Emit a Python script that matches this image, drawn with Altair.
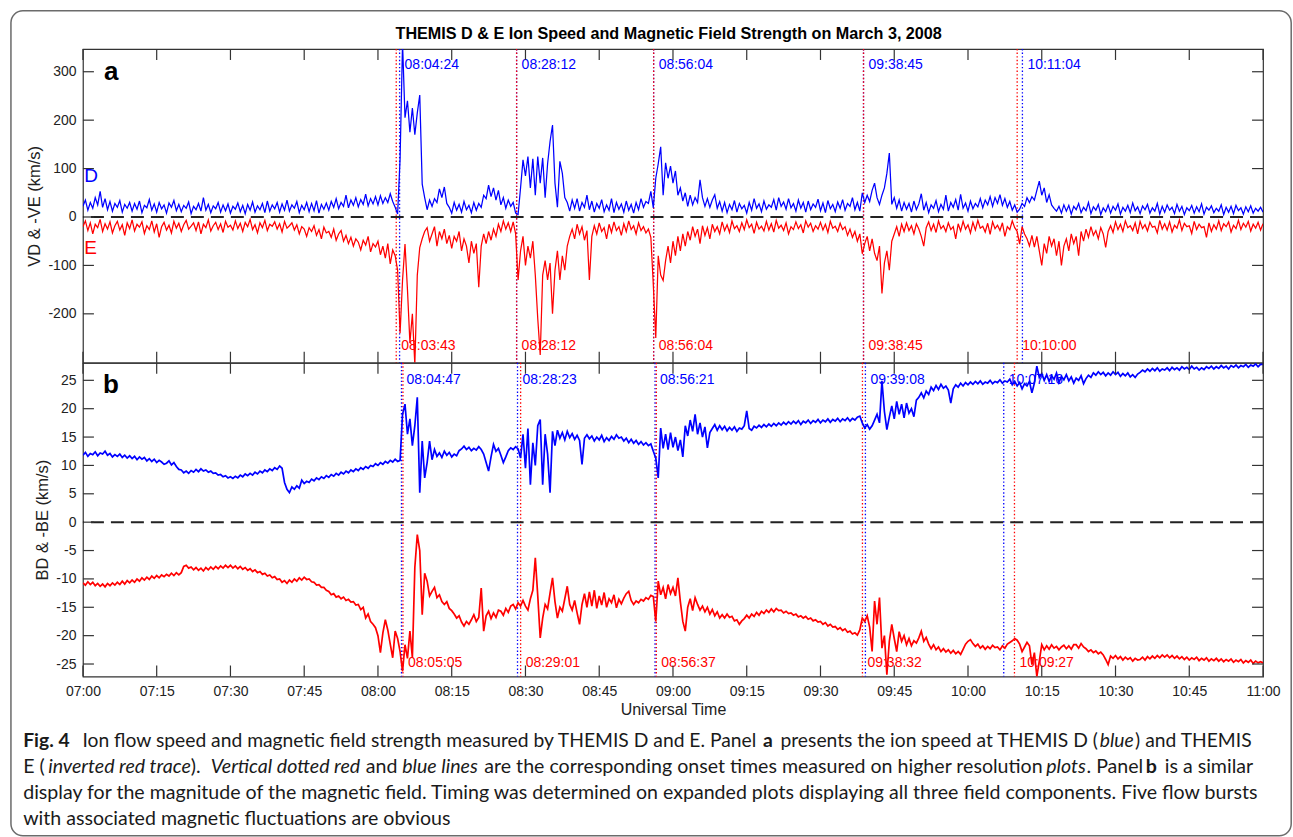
import altair as alt
import pandas as pd

# ---------------- values ----------------
# samples every 30 s, minutes after 07:00 UT
GRID_STEP_MIN = 0.5

# Panel a: THEMIS D ion speed (km/s)
VD = [
    22, 35, 14, 30, 18, 40, 25, 53, 20, 38, 15, 32, 12, 28, 20, 34, 10, 26, 18, 30,
    12, 28, 16, 33, 9, 24, 19, 36, 14, 27, 10, 30, 17, 25, 8, 29, 20, 34, 13, 26,
    11, 24, 18, 31, 7, 22, 15, 28, 12, 40, 14, 26, 9, 23, 17, 30, 10, 25, 13, 27,
    8, 22, 16, 29, 11, 24, 7, 26, 14, 31, 10, 23, 15, 28, 9, 33, 12, 25, 17, 30,
    10, 27, 14, 35, 12, 25, 18, 32, 9, 24, 15, 30, 11, 28, 13, 34, 8, 26, 16, 29,
    14, 32, 20, 38, 17, 30, 22, 45, 19, 35, 24, 40, 21, 36, 26, 47, 23, 38, 27, 42,
    25, 44, 28, 40, 30, 48, 32, 20, 6, 120, 360, 205, 240, 175, 225, 170, 215, 252, 68, 40,
    15, 35, 22, 38, 30, 58, 40, 62, 28, 20, 8, 30, 14, 26, 10, 32, 15, 24, 9, 30,
    14, 28, 20, 45, 38, 66, 42, 60, 35, 55, 25, 40, 18, 35, 22, 30, 8, 5, 60, 118,
    85, 125, 60, 120, 45, 125, 70, 122, 40, 110, 156, 190, 70, 20, 115, 90, 40, 30, 12, 35,
    18, 38, 12, 30, 20, 45, 15, 33, 10, 28, 18, 36, 11, 25, 14, 38, 9, 30, 16, 27,
    10, 33, 14, 26, 8, 30, 15, 38, 20, 32, 28, 53, 19, 80, 110, 145, 45, 112, 80, 105,
    70, 95, 45, 60, 33, 50, 22, 45, 25, 40, 30, 77, 40, 22, 38, 20, 35, 46, 18, 32,
    12, 30, 9, 26, 15, 34, 10, 28, 17, 24, 8, 30, 14, 38, 18, 27, 11, 33, 16, 25,
    20, 36, 14, 40, 22, 31, 16, 38, 19, 28, 12, 35, 18, 30, 10, 33, 15, 27, 20, 37,
    13, 29, 9, 34, 17, 26, 11, 31, 18, 36, 14, 28, 22, 40, 15, 30, 12, 50, 30, 45,
    32, 55, 70, 40, 26, 45, 60, 90, 132, 26, 40, 18, 35, 12, 30, 16, 28, 10, 33, 15,
    27, 48, 14, 30, 9, 25, 18, 34, 11, 26, 16, 45, 12, 30, 20, 36, 14, 47, 18, 29,
    12, 33, 17, 28, 21, 38, 19, 35, 25, 42, 22, 40, 28, 46, 24, 38, 20, 32, 14, 25,
    10, 16, 28, 22, 40, 30, 42, 35, 55, 74, 45, 60, 30, 46, 25, 18, 12, 22, 8, 25,
    12, 24, 6, 22, 15, 28, 9, 20, 13, 30, 7, 21, 14, 26, 5, 19, 11, 25, 8, 22,
    14, 27, 6, 20, 12, 24, 9, 29, 13, 21, 7, 23, 15, 26, 8, 19, 12, 28, 6, 22,
    10, 25, 14, 20, 7, 26, 12, 22, 5, 19, 13, 24, 8, 21, 11, 27, 6, 20, 14, 23,
    9, 18, 12, 25, 5, 20, 10, 22, 7, 24, 13, 19, 6, 21, 11, 23, 8, 18, 12, 20,
    10,
]

# Panel a: THEMIS E ion speed, inverted (km/s)
NEG_VE = [
    -20, -8, -28, -12, -35, -15, -22, -5, -30, -14, -25, -10, -33, -18, -9, -27, -16, -38, -12, -24,
    -6, -29, -15, -21, -10, -34, -18, -26, -8, -31, -14, -42, -20, -11, -27, -17, -33, -9, -23, -13,
    -30, -16, -7, -25, -19, -12, -28, -10, -35, -15, -22, -6, -29, -18, -11, -26, -14, -32, -9, -21,
    -17, -27, -8, -24, -13, -30, -11, -20, -5, -26, -16, -33, -12, -22, -7, -28, -15, -19, -10, -25,
    -14, -31, -9, -23, -18, -12, -27, -16, -35, -20, -25, -40, -22, -30, -18, -38, -26, -45, -21, -33,
    -30, -42, -25, -48, -35, -28, -50, -38, -55, -42, -60, -45, -52, -68, -48, -58, -40, -72, -55, -62,
    -50, -78, -60, -85, -55, -97, -68, -80, -110, -240, -130, -56, -150, -260, -200, -305, -120, -63, -45, -30,
    -22, -50, -35, -20, -60, -30, -45, -25, -55, -38, -65, -40, -50, -30, -70, -45, -60, -95, -50, -75,
    -55, -145, -60, -35, -55, -30, -48, -25, -40, -15, -30, -8, -25, -12, -30, -10, -35, -130, -70, -40,
    -100, -60, -85, -50, -120, -210, -285, -120, -90, -130, -95, -200, -110, -70, -130, -80, -110, -60, -40, -25,
    -45, -15, -35, -20, -48, -28, -130, -40, -18, -35, -12, -30, -22, -45, -15, -32, -10, -28, -20, -38,
    -14, -30, -8, -26, -18, -35, -12, -28, -20, -33, -25, -42, -140, -250, -80, -120, -131, -90, -60, -95,
    -50, -80, -40, -70, -35, -60, -30, -48, -20, -40, -25, -55, -18, -38, -22, -45, -15, -30, -20, -35,
    -10, -28, -16, -32, -8, -24, -18, -30, -12, -26, -6, -22, -15, -34, -11, -25, -19, -29, -9, -27,
    -14, -31, -7, -23, -17, -28, -12, -35, -20, -26, -10, -24, -16, -33, -8, -21, -13, -30, -18, -25,
    -11, -27, -15, -32, -9, -23, -19, -30, -13, -26, -20, -38, -25, -42, -30, -50, -35, -76, -55, -40,
    -70, -45, -75, -90, -60, -158, -95, -70, -110, -50, -35, -20, -40, -15, -30, -12, -28, -18, -35, -14,
    -25, -40, -60, -22, -10, -28, -15, -32, -8, -24, -18, -30, -12, -26, -20, -45, -14, -29, -9, -25,
    -16, -33, -11, -27, -7, -23, -19, -31, -13, -36, -10, -24, -17, -28, -12, -40, -20, -26, -8, -22,
    -30, -56, -20, -35, -45, -60, -38, -62, -40, -70, -100, -55, -75, -40, -60, -45, -80, -50, -100, -60,
    -45, -70, -35, -55, -40, -80, -30, -50, -25, -42, -20, -38, -28, -45, -22, -35, -63, -30, -18, -32,
    -10, -26, -15, -30, -8, -22, -18, -28, -12, -35, -9, -24, -16, -29, -11, -21, -19, -33, -7, -25,
    -14, -27, -10, -31, -17, -23, -6, -28, -13, -20, -18, -34, -9, -26, -15, -22, -20, -42, -12, -30,
    -16, -25, -8, -28, -14, -20, -10, -31, -17, -24, -7, -26, -13, -21, -9, -29, -15, -23, -11, -27,
    -14,
]

# Panel b: THEMIS D field magnitude
BD = [
    11.8, 12.3, 11.6, 12.1, 11.9, 12.4, 11.7, 12.2, 12.0, 12.5, 11.8, 12.1, 11.5, 11.9, 11.6, 12.0, 11.4, 11.8, 11.3, 11.7,
    11.2, 11.6, 11.0, 11.5, 11.1, 11.4, 10.8, 11.2, 10.7, 11.1, 10.5, 10.9, 10.6, 10.2, 10.4, 10.8, 10.1, 10.5, 9.8, 9.3,
    9.2, 8.7, 9.0, 8.6, 9.1, 8.8, 9.3, 8.9, 9.4, 9.0, 9.2, 8.8, 9.0, 8.6, 8.7, 8.3, 8.4, 8.0, 8.2, 7.8,
    8.0, 7.7, 8.1, 7.8, 8.3, 8.0, 8.5, 8.2, 8.6, 8.3, 8.8, 8.5, 9.0, 8.7, 9.2, 8.9, 9.4, 9.1, 9.6, 9.3,
    9.9, 9.5, 7.0, 5.8, 5.2, 6.2, 5.8, 6.4, 6.0, 7.4, 6.8, 7.2, 7.0, 7.6, 7.3, 7.8, 7.5, 8.0, 7.7, 8.2,
    7.9, 8.4, 8.1, 8.6, 8.3, 8.8, 8.5, 9.0, 8.7, 9.2, 8.9, 9.4, 9.1, 9.6, 9.3, 9.8, 9.5, 10.0, 9.8, 10.3,
    10.0, 10.5, 10.2, 10.7, 10.4, 10.9, 10.6, 11.1, 10.7, 10.9, 19.0, 20.8, 15.5, 18.2, 13.5, 17.0, 22.0, 5.2, 14.3, 7.8,
    10.5, 14.3, 11.0, 12.8, 11.6, 12.2, 11.4, 12.5, 11.8, 12.3, 11.5, 12.0, 11.7, 12.6, 12.9, 13.4, 12.8, 13.2, 12.6, 13.0,
    12.7, 13.3, 12.8, 12.0, 10.5, 9.0, 11.5, 13.7, 12.5, 13.0, 11.8, 10.5, 11.5, 12.6, 13.1, 12.8, 13.3, 12.9, 11.3, 15.5,
    9.5, 16.5, 6.6, 14.0, 10.0, 17.0, 18.1, 6.6, 15.5, 12.0, 5.2, 16.0, 13.5, 16.2, 14.8, 15.8, 14.5, 16.0, 14.9, 15.6,
    14.6, 15.3, 14.4, 10.2, 14.8, 15.4, 14.7, 15.2, 14.3, 15.0, 14.5, 15.3, 14.2, 14.9, 14.4, 15.1, 14.6, 15.4, 14.8, 15.0,
    14.3, 14.8, 14.0, 14.6, 13.9, 14.4, 13.7, 14.2, 13.6, 14.0, 13.5, 13.8, 12.5, 11.3, 7.8, 16.6, 13.0, 15.5, 12.8, 15.8,
    13.2, 15.0, 12.6, 14.5, 11.5, 17.0, 15.2, 18.0, 16.0, 19.0, 15.5, 17.5, 15.0, 16.8, 13.1, 15.8, 16.5, 17.2, 16.2, 17.0,
    16.3, 16.9, 16.1, 16.7, 16.2, 16.8, 16.0, 16.6, 16.4, 17.0, 19.6, 16.5, 16.2, 16.9, 16.6, 17.1, 16.7, 17.2, 16.8, 17.3,
    16.9, 17.4, 17.0, 17.5, 17.1, 17.6, 17.2, 17.7, 17.3, 17.8, 17.4, 17.9, 17.2, 17.8, 17.5, 18.0, 17.4, 17.9, 17.6, 18.1,
    17.5, 18.0, 17.7, 18.2, 17.6, 18.1, 17.8, 18.3, 17.7, 18.2, 17.9, 18.4, 17.8, 18.3, 18.0, 18.5, 18.7, 17.5, 16.6, 17.2,
    16.4, 17.0, 18.0, 19.0, 17.5, 24.9, 19.5, 16.3, 18.5, 20.5, 18.2, 21.3, 19.0, 20.8, 18.4, 21.0, 19.2, 20.0, 18.6, 21.5,
    22.0, 22.8, 21.9, 23.1, 22.5, 23.8, 23.2, 24.1, 23.4, 24.3, 23.6, 24.0, 23.3, 21.0, 23.5, 24.2, 23.8, 24.5, 24.0, 24.6,
    24.2, 24.7, 24.3, 24.8, 24.4, 24.9, 24.3, 24.7, 24.5, 25.0, 24.4, 24.8, 24.6, 25.1, 24.5, 24.9, 24.7, 25.2, 24.2, 24.8,
    24.0, 24.6, 23.5, 24.4, 24.0, 24.8, 22.8, 24.5, 27.5, 25.5, 26.2, 25.0, 26.0, 24.8, 25.8, 25.2, 26.3, 24.6, 25.7, 25.1,
    26.0, 24.9, 25.6, 24.5, 25.4, 25.0, 25.8, 24.4, 25.3, 25.9, 25.5, 26.3, 25.9, 26.5, 26.0, 26.4, 25.8, 26.3, 25.9, 26.5,
    26.0, 26.4, 25.7, 26.2, 25.8, 26.3, 25.6, 26.0, 25.5, 26.1, 26.4, 26.8, 26.5, 27.0, 26.6, 27.1, 26.7, 27.2, 26.6, 27.0,
    26.8, 27.2, 26.7, 27.3, 26.9, 27.2, 26.8, 27.4, 27.0, 27.3, 26.9, 27.5, 27.0, 27.3, 26.8, 27.2, 26.9, 27.4, 27.1, 27.5,
    27.0, 27.4, 27.1, 27.6, 27.2, 27.5, 27.0, 27.6, 27.3, 27.7, 27.2, 27.6, 27.4, 27.8, 27.3, 27.7, 27.5, 27.9, 27.4, 27.8,
    27.8,
]

# Panel b: THEMIS E field magnitude, inverted
NEG_BE = [
    -10.7, -11.1, -10.5, -11.0, -10.6, -11.2, -10.8, -11.3, -10.9, -11.4, -10.8, -11.2, -10.7, -11.1, -10.6, -11.0, -10.4, -10.9, -10.3, -10.7,
    -10.2, -10.6, -10.0, -10.4, -9.8, -10.2, -9.7, -10.1, -9.5, -9.9, -9.4, -9.8, -9.3, -9.6, -9.2, -9.5, -9.0, -9.4, -8.9, -9.3,
    -8.9, -7.8, -7.6, -8.1, -7.9, -8.4, -8.0, -8.5, -8.1, -8.6, -8.0, -8.4, -7.9, -8.3, -7.8, -8.2, -7.7, -8.1, -7.6, -8.0,
    -7.6, -8.1, -7.7, -8.2, -7.8, -8.3, -8.0, -8.5, -8.2, -8.7, -8.4, -8.9, -8.7, -9.2, -9.0, -9.5, -9.3, -9.8, -9.6, -10.1,
    -10.0, -10.6, -10.3, -10.8, -10.2, -10.6, -10.0, -10.4, -9.8, -10.2, -9.7, -10.1, -10.0, -10.5, -10.6, -11.1, -11.0, -11.5, -11.5, -12.0,
    -12.2, -12.8, -12.6, -13.2, -13.0, -13.5, -13.2, -13.8, -13.6, -14.1, -14.0, -14.6, -14.5, -15.4, -15.0, -16.9, -16.2, -17.5, -18.0, -18.6,
    -20.0, -23.0, -19.5, -17.2, -19.0, -21.5, -23.9, -19.2, -20.5, -22.8, -26.3, -21.6, -24.0, -19.2, -23.9, -8.0, -2.2, -5.0, -16.3, -9.0,
    -10.4, -13.0, -12.2, -11.5, -13.3, -12.8, -14.0, -14.5, -14.0, -15.2, -15.6, -16.2, -16.9, -16.5, -17.6, -18.3, -17.5, -18.0, -17.2, -16.3,
    -17.5, -16.8, -11.6, -19.2, -16.5, -15.7, -17.0, -16.0, -16.8, -15.5, -15.7, -16.4, -15.2, -15.9, -14.8, -14.5, -15.3, -14.2, -14.8, -13.8,
    -14.8, -15.5, -13.5, -12.0, -6.3, -13.0, -20.4, -16.9, -14.5, -15.3, -12.5, -9.8, -14.0, -16.9, -15.0, -15.7, -13.5, -11.3, -14.5, -15.5,
    -13.8, -16.0, -18.0, -14.5, -12.6, -15.0, -12.3, -14.8, -12.0, -15.2, -13.0, -14.6, -12.4, -15.0, -13.5, -14.2, -12.8, -15.1, -13.6, -14.4,
    -13.4, -12.6, -12.2, -13.8, -14.5, -13.9, -14.2, -13.6, -13.9, -13.3, -13.6, -12.9, -13.1, -17.5, -10.4, -12.8, -11.5, -13.5, -11.0, -12.6,
    -11.5, -13.0, -9.8, -14.0, -17.5, -19.2, -15.0, -13.5, -15.6, -13.3, -14.5, -15.5, -14.8, -15.8, -15.0, -16.2, -15.4, -16.5, -15.8, -16.9,
    -16.3, -16.9, -16.2, -16.8, -16.6, -17.4, -17.2, -18.0, -17.4, -17.0, -16.4, -16.9, -16.2, -16.6, -15.9, -16.4, -15.7, -16.1, -15.5, -15.9,
    -15.3, -15.8, -15.2, -15.6, -15.5, -16.0, -15.7, -16.1, -16.0, -16.4, -16.2, -16.7, -16.5, -16.9, -16.6, -17.1, -16.9, -17.4, -17.2, -17.6,
    -17.5, -18.0, -17.7, -18.3, -18.0, -18.5, -18.4, -18.9, -18.6, -19.1, -18.8, -19.4, -19.2, -19.7, -19.5, -19.9, -19.0, -16.9, -17.5, -16.5,
    -18.5, -22.8, -13.9, -18.0, -13.3, -22.2, -20.0, -26.9, -21.0, -18.0, -20.5, -22.8, -19.3, -21.0, -20.0, -21.6, -20.5, -21.8, -20.9, -21.3,
    -20.4, -19.2, -21.0, -20.3, -21.5, -22.3, -21.6, -22.5, -22.0, -22.8, -22.3, -22.9, -22.5, -23.1, -22.6, -23.2, -22.8, -23.3, -22.4, -21.5,
    -21.0, -20.7, -21.4, -21.9, -21.5, -22.2, -21.8, -22.4, -21.9, -22.3, -21.7, -22.1, -22.0, -22.5, -21.8, -22.2, -21.5, -21.2, -20.9, -20.5,
    -20.8, -21.5, -22.8, -22.0, -21.2, -21.8, -25.1, -23.0, -27.2, -24.5, -21.6, -22.5, -21.8, -22.4, -21.6, -22.2, -21.9, -22.5, -22.0, -21.7,
    -22.3, -21.8, -22.4, -21.6, -21.6, -22.2, -21.4, -22.0, -22.3, -22.8, -22.5, -23.0, -22.7, -23.2, -22.9, -23.4, -24.2, -25.1, -23.6, -24.0,
    -23.5, -24.1, -23.7, -24.3, -23.8, -24.2, -23.9, -24.5, -24.0, -24.3, -24.2, -23.8, -24.3, -23.7, -24.1, -23.6, -24.0, -23.5, -23.9, -23.4,
    -23.8, -23.4, -23.9, -23.5, -24.0, -23.6, -24.1, -23.7, -24.2, -23.8, -24.3, -23.9, -24.2, -23.8, -24.4, -24.0, -24.3, -23.9, -24.5, -24.1,
    -24.4, -24.0, -24.5, -24.1, -24.6, -24.2, -24.5, -24.1, -24.7, -24.3, -24.6, -24.2, -24.8, -24.4, -24.7, -24.3, -24.9, -24.5, -24.8, -24.6,
    -24.8,
]

ONSET_A_RED = ["08:03:43", "08:28:12", "08:56:04", "09:38:45", "10:10:00"]
ONSET_A_BLUE = ["08:04:24", "08:28:12", "08:56:04", "09:38:45", "10:11:04"]
ONSET_B_BLUE = ["08:04:47", "08:28:23", "08:56:21", "09:39:08", "10:07:16"]
ONSET_B_RED = ["08:05:05", "08:29:01", "08:56:37", "09:38:32", "10:09:27"]

X_TICK_LABELS = ["07:00", "07:15", "07:30", "07:45", "08:00", "08:15", "08:30", "08:45",
                 "09:00", "09:15", "09:30", "09:45", "10:00", "10:15", "10:30", "10:45", "11:00"]
YA_TICKS = [-200, -100, 0, 100, 200, 300]
YB_TICKS = [-25, -20, -15, -10, -5, 0, 5, 10, 15, 20, 25]

TITLE = "THEMIS D & E Ion Speed and Magnetic Field Strength on March 3, 2008"

# caption: runs of text per line -> (text, style, estimated width at 18 px, gap before at 18 px)
# gaps of 3 px or more are word spaces that absorb the justification
CAPTION_LINES = [
    [("Fig. 4", "bold", 44, 0),
     ("Ion flow speed and magnetic field strength measured by THEMIS D and E. Panel", "normal", 628, 8),
     ("a", "bold", 9, 4),
     ("presents the ion speed at THEMIS D (", "normal", 297, 4),
     ("blue", "italic", 32, 1),
     (") and THEMIS", "normal", 114, 1)],
    [("E (", "normal", 22, 0),
     ("inverted red trace", "italic", 130, 1),
     (").", "normal", 10, 1),
     ("Vertical dotted red", "italic", 134, 4),
     ("and", "normal", 25, 4),
     ("blue lines", "italic", 67, 4),
     ("are the corresponding onset times measured on higher resolution", "normal", 508, 4),
     ("plots", "italic", 36, 4),
     (". Panel", "normal", 46, 1),
     ("b", "bold", 9, 4),
     ("is a similar", "normal", 85, 4)],
    [("display for the magnitude of the magnetic field. Timing was determined on expanded plots "
      "displaying all three field components. Five flow bursts", "normal", 1135, 0)],
    [("with associated magnetic fluctuations are obvious", "normal", 393, 0)],
]
CAPTION_JUSTIFY = [True, True, False, False]
CAPTION_SIZES = [19.3, 19.6, 19.6, 19.6]
CAPTION_LINE_Y = [740, 766.7, 792.7, 818.3]
CAPTION_X0, CAPTION_X1 = 22, 1257

# ---------------- layout ----------------
FONT = "Liberation Sans"
CAP_FONT = "Lato"
W, HA, HB = 1181, 314, 314
LEFT0, TOPA, TOPB = 81.8, 47.7, 361.7  # page position of plot origins
TICK = 11
BLUE, RED, INK = "#0000ff", "#ff0000", "#222222"


def to_min(s):
    parts = [int(p) for p in s.split(":")]
    while len(parts) < 3:
        parts.append(0)
    h, m, sec = parts
    return (h - 7) * 60 + m + sec / 60.0


X_TICKS = [to_min(s) for s in X_TICK_LABELS]
XS = alt.Scale(domain=[0, 240], nice=False, zero=False)
YSA = alt.Scale(domain=[-301, 347], nice=False, zero=False)
YSB = alt.Scale(domain=[-27.2, 28.1], nice=False, zero=False)

label_expr = " : ".join(f"datum.value == {v} ? '{lab}'" for v, lab in zip(X_TICKS, X_TICK_LABELS)) + " : ''"
num_expr = "'' + datum.value"

X_A = alt.X("t:Q", scale=XS, axis=None)
X_B = alt.X("t:Q", scale=XS, axis=alt.Axis(
    values=X_TICKS, labelExpr=label_expr, ticks=False, tickSize=0, domain=False, grid=False,
    labelPadding=8, labelFlush=False, labelOverlap=False, labelFontSize=14,
    title="Universal Time", titlePadding=3, titleFontSize=16))
Y_A = alt.Y("v:Q", scale=YSA, axis=alt.Axis(
    values=YA_TICKS, labelExpr=num_expr, ticks=False, tickSize=0, domain=False, grid=False,
    labelPadding=7, labelFlush=False, labelOverlap=False, labelFontSize=14,
    title="VD & -VE (km/s)", titlePadding=5, titleFontSize=16.5))
Y_B = alt.Y("v:Q", scale=YSB, axis=alt.Axis(
    values=YB_TICKS, labelExpr=num_expr, ticks=False, tickSize=0, domain=False, grid=False,
    labelPadding=7, labelFlush=False, labelOverlap=False, labelFontSize=14,
    title="BD & -BE (km/s)", titlePadding=5, titleFontSize=16.5))


def one_row():
    return alt.Data(values=[{"k": 0}])


def series_df(vals):
    return pd.DataFrame({"t": [i * GRID_STEP_MIN for i in range(len(vals))], "v": vals})


def text_at(text, x, y, size, color=INK, weight="normal", style="normal", font=FONT,
            align="left", baseline="middle"):
    return alt.Chart(one_row()).mark_text(
        text=text, font=font, fontSize=size, fontWeight=weight, fontStyle=style,
        color=color, align=align, baseline=baseline).encode(x=alt.value(x), y=alt.value(y))


def panel_layers(X, Y, h, vals_top, vals_bot, on_top, on_bot, top_lab_y, bot_lab_y, yticks, lw):
    layers = []
    for times, color in ((on_top, BLUE), (on_bot, RED)):
        df = pd.DataFrame({"t": [to_min(s) for s in times]})
        layers.append(alt.Chart(df).mark_rule(color=color, strokeWidth=1.3, strokeDash=[1.4, 2.2]).encode(x=X))
    layers.append(alt.Chart(pd.DataFrame({"v": [0]})).mark_rule(
        color=INK, strokeWidth=2, strokeDash=[13, 7]).encode(y=Y))
    layers.append(alt.Chart(series_df(vals_bot)).mark_line(color=RED, strokeWidth=lw, clip=True).encode(x=X, y=Y))
    layers.append(alt.Chart(series_df(vals_top)).mark_line(color=BLUE, strokeWidth=lw, clip=True).encode(x=X, y=Y))
    for times, color, ly in ((on_top, BLUE, top_lab_y), (on_bot, RED, bot_lab_y)):
        df = pd.DataFrame({"t": [to_min(s) for s in times], "label": times})
        layers.append(alt.Chart(df).mark_text(
            color=color, font=FONT, fontSize=14, align="left", baseline="middle", dx=5).encode(
            x=X, y=alt.value(ly), text="label:N"))
    xt = pd.DataFrame({"t": X_TICKS})
    layers.append(alt.Chart(xt).mark_rule(color="#333333", strokeWidth=1.2).encode(
        x=X, y=alt.value(0), y2=alt.value(TICK)))
    layers.append(alt.Chart(xt).mark_rule(color="#333333", strokeWidth=1.2).encode(
        x=X, y=alt.value(h - TICK), y2=alt.value(h)))
    yt = pd.DataFrame({"v": yticks})
    layers.append(alt.Chart(yt).mark_rule(color="#333333", strokeWidth=1.2).encode(
        y=Y, x=alt.value(0), x2=alt.value(TICK)))
    layers.append(alt.Chart(yt).mark_rule(color="#333333", strokeWidth=1.2).encode(
        y=Y, x=alt.value(W - TICK), x2=alt.value(W)))
    return layers


def caption_layers():
    out = []
    for li, runs in enumerate(CAPTION_LINES):
        size = CAPTION_SIZES[li]
        k = size / 18.0
        natural = sum((w + g) * k for _, _, w, g in runs)
        n_gaps = sum(1 for _, _, _, g in runs if g >= 3)
        extra = 0.0
        if CAPTION_JUSTIFY[li] and n_gaps:
            extra = max(-1.5, (CAPTION_X1 - CAPTION_X0 - natural) / n_gaps)
        x = CAPTION_X0
        for text, style, w, g in runs:
            if g > 0:
                x += g * k + (extra if g >= 3 else 0.0)
            out.append(text_at(text, x - LEFT0, CAPTION_LINE_Y[li] - TOPB, size, color="#1a1a1a",
                               weight="bold" if style == "bold" else "normal",
                               style="italic" if style == "italic" else "normal", font=CAP_FONT))
            x += w * k
    return out


# ---------------- panel a ----------------
layers_a = panel_layers(X_A, Y_A, HA, VD, NEG_VE, ONSET_A_BLUE, ONSET_A_RED,
                        64 - TOPA, 345 - TOPA, YA_TICKS, 1.25)
layers_a += [
    text_at("a", 103 - LEFT0, 79 - TOPA, 26, color="#000000", weight="bold", baseline="alphabetic"),
    text_at("D", 83 - LEFT0, 175 - TOPA, 19, color=BLUE),
    text_at("E", 83 - LEFT0, 247 - TOPA, 19, color=RED),
    text_at(TITLE, 668 - LEFT0, 33 - TOPA, 16.2, color="#000000", weight="bold", align="center"),
]
panel_a = alt.layer(*layers_a).properties(width=W, height=HA)

# ---------------- panel b ----------------
layers_b = panel_layers(X_B, Y_B, HB, BD, NEG_BE, ONSET_B_BLUE, ONSET_B_RED,
                        379.3 - TOPB, 661.7 - TOPB, YB_TICKS, 1.7)
layers_b.append(text_at("b", 102 - LEFT0, 391.5 - TOPB, 26, color="#000000", weight="bold",
                        baseline="alphabetic"))
layers_b += caption_layers()
# figure frame
layers_b.append(alt.Chart(one_row()).mark_rect(
    filled=False, color="#6b6b6b", strokeWidth=1.5, cornerRadius=12).encode(
    x=alt.value(9.75 - LEFT0), x2=alt.value(1291 - LEFT0),
    y=alt.value(9.5 - TOPB), y2=alt.value(835 - TOPB)))
panel_b = alt.layer(*layers_b).properties(width=W, height=HB)

chart = alt.vconcat(panel_a, panel_b, spacing=0, bounds="flush").properties(
    padding={"left": 9, "top": 8.7, "right": 0, "bottom": 0},
    background="white",
).configure_view(stroke="#333333", strokeWidth=1.2).configure_axis(
    labelFont=FONT, labelColor=INK, titleFont=FONT, titleColor=INK, titleFontWeight="normal")

chart.save("out.html", embed_options={"renderer": "svg", "actions": False})
